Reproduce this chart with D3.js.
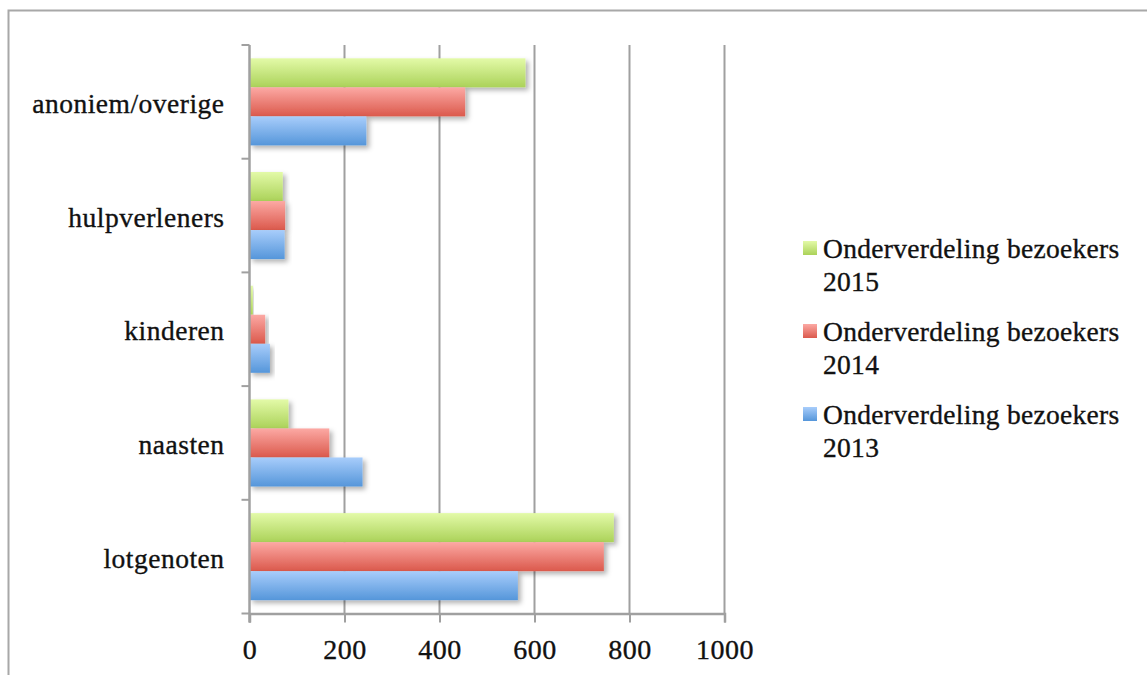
<!DOCTYPE html>
<html><head><meta charset="utf-8">
<script src="https://cdn.jsdelivr.net/npm/d3@7"></script>
<style>
html,body{margin:0;padding:0;background:#fff;}
svg{display:block;}
text{font-family:"Liberation Serif","Times New Roman",serif;fill:#111;stroke:#111;stroke-width:0.35px;}
</style></head>
<body>
<svg id="chart" width="1147" height="675"></svg>
<script>
const categories = ["anoniem/overige","hulpverleners","kinderen","naasten","lotgenoten"];
const seriesNames = ["Onderverdeling bezoekers 2015","Onderverdeling bezoekers 2014","Onderverdeling bezoekers 2013"];
const values2015 = [581, 70, 7, 82, 767];
const values2014 = [454, 75, 33, 168, 746];
const values2013 = [246, 74, 43, 238, 565];
const xTicks = [0,200,400,600,800,1000];
const seriesValues = [values2015, values2014, values2013];
const seriesColors = [["#e3faa8","#abd259"],["#fca9a4","#db594c"],["#a8cdfb","#5596da"]];

(function(){
const svg = d3.select("#chart");
const defs = svg.append("defs");
seriesColors.forEach((c,i)=>{
  const g = defs.append("linearGradient").attr("id","grad"+i).attr("x1",0).attr("y1",0).attr("x2",0).attr("y2",1);
  g.append("stop").attr("offset","0%").attr("stop-color",c[0]);
  g.append("stop").attr("offset","100%").attr("stop-color",c[1]);
});
const f = defs.append("filter").attr("id","shadow").attr("x","-10%").attr("y","-20%").attr("width","130%").attr("height","160%");
f.append("feDropShadow").attr("dx",3).attr("dy",3).attr("stdDeviation",2.5).attr("flood-color","#000").attr("flood-opacity",0.3);

svg.append("path").attr("d","M8.5,675 L8.5,10.5 L1147,10.5").attr("fill","none").attr("stroke","#a8a8a8").attr("stroke-width",2);

const pLeft = 249.5, pRight = 724.5, pTop = 45, pBottom = 613.5;
const x = d3.scaleLinear().domain([0,1000]).range([pLeft,pRight]);
const y0 = d3.scaleBand().domain(categories).range([pTop,pBottom]).paddingInner(0.234).paddingOuter(0.117);
const y1 = d3.scaleBand().domain(d3.range(3)).range([0,y0.bandwidth()]);

const gridColor = "#a0a0a0";
svg.append("g").selectAll("line").data(xTicks.slice(1)).join("line")
  .attr("x1",d=>x(d)).attr("x2",d=>x(d)).attr("y1",pTop).attr("y2",pBottom)
  .attr("stroke",gridColor).attr("stroke-width",2);

const bars = svg.append("g");
categories.forEach((cat,ci)=>{
  seriesValues.forEach((vals,si)=>{
    bars.append("rect")
      .attr("x",x(0)).attr("y",y0(cat)+y1(si))
      .attr("width",x(vals[ci])-x(0)).attr("height",y1.bandwidth())
      .attr("fill","url(#grad"+si+")").attr("filter","url(#shadow)");
  });
});

const yAxisScale = d3.scaleBand().domain(categories).range([pTop,pBottom]);
const yAxis = svg.append("g").attr("transform",`translate(${pLeft},0)`)
  .call(d3.axisLeft(yAxisScale).tickSize(0).tickPadding(25));
yAxis.select(".domain").remove();
yAxis.selectAll("text").attr("font-size",27.5).attr("letter-spacing","0.5px").attr("dy","0.4em").style("font-family","Liberation Serif").attr("fill","#111");
const bounds = categories.map(c=>yAxisScale(c)).concat([pBottom]);
svg.append("g").selectAll("line").data(bounds).join("line")
  .attr("x1",pLeft-8).attr("x2",pLeft).attr("y1",d=>d).attr("y2",d=>d)
  .attr("stroke",gridColor).attr("stroke-width",2);
svg.append("line").attr("x1",pLeft).attr("x2",pLeft).attr("y1",pTop).attr("y2",pBottom+9)
  .attr("stroke",gridColor).attr("stroke-width",2.5);

const xAxis = svg.append("g").attr("transform",`translate(0,${pBottom})`)
  .call(d3.axisBottom(x).tickValues(xTicks).tickFormat(d3.format("d")).tickSize(9).tickPadding(17));
xAxis.select(".domain").attr("stroke",gridColor).attr("stroke-width",2.5);
xAxis.selectAll(".tick line").attr("stroke",gridColor).attr("stroke-width",2);
xAxis.selectAll("text").attr("font-size",28).attr("letter-spacing","0.5px").style("font-family","Liberation Serif").attr("fill","#111");

const legend = svg.append("g").attr("transform","translate(803,241)");
seriesNames.forEach((name,i)=>{
  const g = legend.append("g").attr("transform",`translate(0,${i*83})`);
  g.append("rect").attr("width",14).attr("height",14).attr("fill","url(#grad"+i+")").attr("stroke","none");
  const parts = name.split(" ");
  const t = g.append("text").attr("x",20).attr("y",17).attr("font-size",27.5).attr("letter-spacing","0.3px");
  t.append("tspan").attr("x",20).attr("dy",0).text(parts.slice(0,2).join(" "));
  t.append("tspan").attr("x",20).attr("dy",33).text(parts[2]);
});
})();
</script>
</body></html>
